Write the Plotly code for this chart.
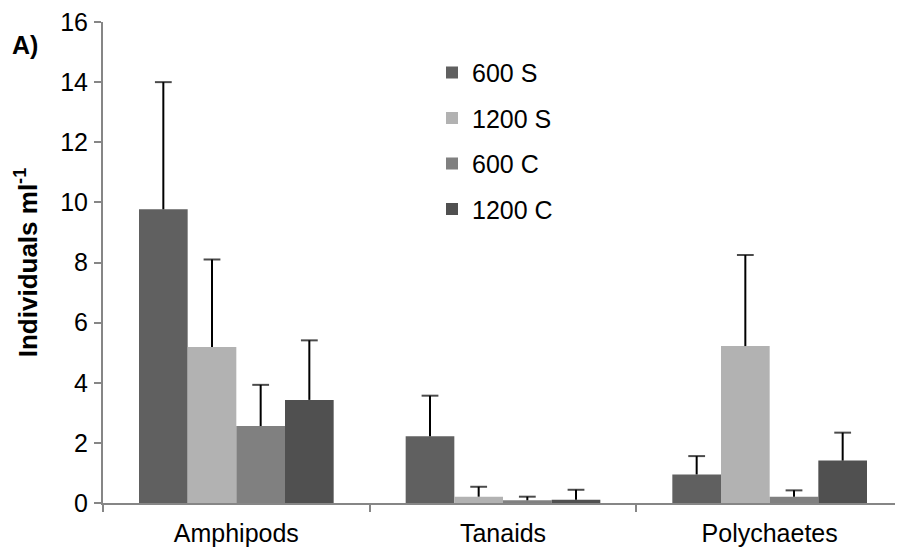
import plotly.graph_objects as go

categories = ["Amphipods", "Tanaids", "Polychaetes"]
series_names = ["600 S", "1200 S", "600 C", "1200 C"]
values_600S = [9.77, 2.22, 0.95]
values_1200S = [5.19, 0.21, 5.22]
values_600C = [2.56, 0.09, 0.21]
values_1200C = [3.43, 0.11, 1.41]
err_600S = [4.23, 1.35, 0.61]
err_1200S = [2.91, 0.33, 3.03]
err_600C = [1.37, 0.12, 0.21]
err_1200C = [1.98, 0.33, 0.93]
y_ticks = [0, 2, 4, 6, 8, 10, 12, 14, 16]

colors = ["#606060", "#b2b2b2", "#808080", "#505050"]
values = [values_600S, values_1200S, values_600C, values_1200C]
errors = [err_600S, err_1200S, err_600C, err_1200C]

fig = go.Figure()
for i, name in enumerate(series_names):
    fig.add_trace(go.Bar(
        x=categories, y=values[i], name=name,
        marker=dict(color=colors[i], line=dict(width=0)),
        offsetgroup=str(i), legendgroup=name,
    ))

# upper-only error bars (no lower cap), grouped like the bars
for i, name in enumerate(series_names):
    xs, ys, sizes = [], [], []
    for c, v, e in zip(categories, values[i], errors[i]):
        xs += [c, c, c]
        ys += [v, v + e, None]
        sizes += [0, 12, 0]
    fig.add_trace(go.Scatter(
        x=xs, y=ys, mode="lines+markers", showlegend=False, hoverinfo="skip",
        offsetgroup=str(i), line=dict(color="black", width=2),
        marker=dict(symbol="line-ew", size=sizes, color="black",
                    line=dict(color="black", width=2)),
        connectgaps=False, cliponaxis=False,
    ))

# page body has an 8px margin; plot area spans page x 103..903, y 19..503
PL, PT, PW, PH = 103, 19, 800, 484

fig.update_layout(
    width=895, height=545,
    margin=dict(l=95, r=0, t=11, b=50),
    paper_bgcolor="white", plot_bgcolor="white",
    barmode="group", bargap=0.27, bargroupgap=0,
    scattermode="group", scattergap=0.27,
    font=dict(family="Liberation Sans, Arial", size=25, color="black"),
    showlegend=True,
    legend=dict(x=(432 - PL) / PW, y=1 - (47 - PT) / PH, xanchor="left", yanchor="top",
                bgcolor="rgba(0,0,0,0)", tracegroupgap=10,
                font=dict(size=25), itemwidth=30),
    xaxis=dict(range=[-0.5, 2.5], showline=True, linecolor="#868686", linewidth=2,
               ticks="outside", tickson="boundaries", ticklen=7, tickcolor="#868686",
               tickwidth=2, showgrid=False, ticklabelstandoff=7),
    yaxis=dict(range=[0, 16], tickvals=y_ticks, showline=True, linecolor="#868686",
               linewidth=2, ticks="outside", ticklen=7, tickcolor="#868686", tickwidth=2,
               showgrid=False, zeroline=False, ticklabelstandoff=1,
               ticklabeloverflow="allow",
               title=dict(text="<b>Individuals ml<sup>-1</sup></b>", standoff=15,
                          font=dict(size=26))),
    annotations=[dict(text="<b>A)</b>", x=(10 - PL) / PW, y=(PT + PH - 42) / PH,
                      xref="paper", yref="paper", showarrow=False,
                      xanchor="left", yanchor="middle", font=dict(size=25))],
)

fig.write_html("out.html")
